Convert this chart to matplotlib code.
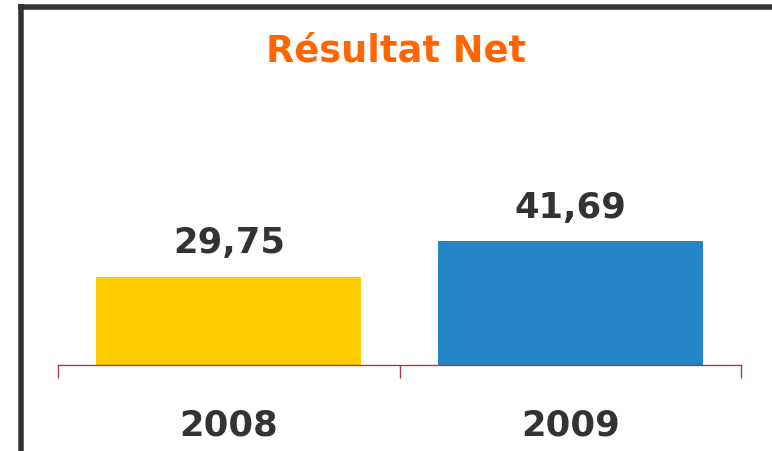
import matplotlib.pyplot as plt
from matplotlib.lines import Line2D

# data
years = ["2008", "2009"]
values = [29.75, 41.69]
value_labels = ["29,75", "41,69"]
bar_colors = ["#FFCC00", "#2384C6"]

text_color = "#333333"
axis_color = "#A04040"

fig = plt.figure(figsize=(7.72, 4.51), dpi=100)
W, H = 772, 451

# axes placed so that the baseline sits at y=365 px and spans x 58..741 px
ax = fig.add_axes([58 / W, (H - 365) / H, (741 - 58) / W, 360 / H])
x = list(range(len(years)))
ax.bar(x, values, width=0.777, color=bar_colors, zorder=2)
ax.set_xlim(-0.5, len(years) - 0.5)
ax.set_ylim(0, 360 / 2.965)

for s in ["top", "right", "left"]:
    ax.spines[s].set_visible(False)
ax.spines["bottom"].set_color(axis_color)
ax.spines["bottom"].set_linewidth(1.0)
ax.set_yticks([])
ax.set_xticks([])
ax.set_xticks([i - 0.5 for i in range(len(years) + 1)], minor=True)
ax.tick_params(axis="x", which="minor", length=9.5, width=1.0, color=axis_color,
               labelbottom=False)

for xi, v, lab in zip(x, values, value_labels):
    ax.annotate(lab, (xi, v), xytext=(0, 17), textcoords="offset points",
                ha="center", va="baseline", fontsize=25.5, fontweight="bold",
                color=text_color)

# year labels below the axis
for xi, yr in zip(x, years):
    ax.annotate(yr, (xi, 0), xytext=(0, -51), textcoords="offset points",
                ha="center", va="baseline", fontsize=25.5, fontweight="bold",
                color=text_color, annotation_clip=False)

fig.text(396.5 / W, (H - 61) / H, "Résultat Net", ha="center", va="baseline",
         fontsize=26.5, fontweight="bold", color="#FF6600")

# frame border (left and top)
lw = 5.5 * 72 / 100
fig.add_artist(Line2D([20.5 / W, 20.5 / W], [0, (H - 4) / H], color="#333333",
                      linewidth=lw, transform=fig.transFigure, solid_capstyle="butt"))
fig.add_artist(Line2D([18 / W, 1], [(H - 7) / H, (H - 7) / H], color="#333333",
                      linewidth=lw, transform=fig.transFigure, solid_capstyle="butt"))

plt.savefig("out.png", dpi=100)
